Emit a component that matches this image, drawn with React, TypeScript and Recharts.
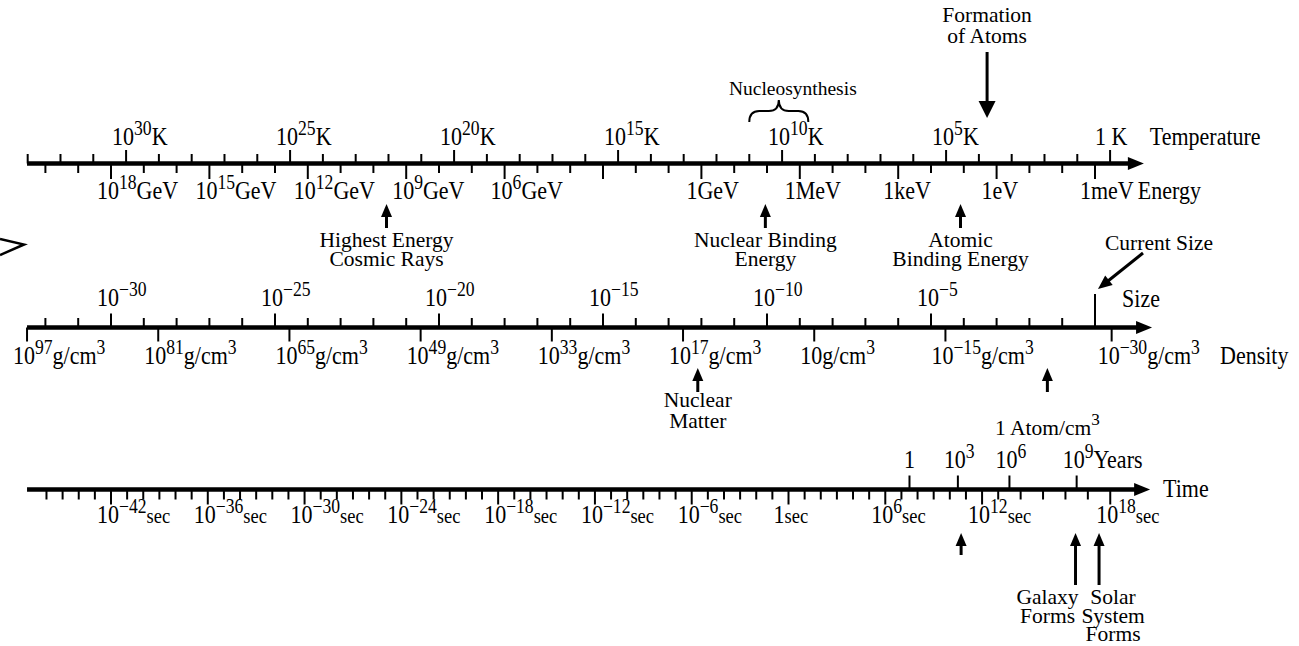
import React from 'react';
import {
  ScatterChart, Scatter, XAxis, YAxis, ReferenceLine, ReferenceArea, Customized,
} from 'recharts';

// Every mark sits on one horizontal scale: decades of the size of the universe
// (log10 a, today = 0). The other scales were read off the figure and tied to it.

const decades = (from: number, to: number) => {
  const out: number[] = [];
  const step = from < to ? 1 : -1;
  for (let v = from; v !== to + step; v += step) out.push(v);
  return out;
};

// temperature, log10 K
const tempTicks = decades(33, 0);
const tempLabels = [30, 25, 20, 15, 10, 5, 0];
// energy, log10 GeV
const energyTicks = decades(20, -12);
const energyMajor = [18, 15, 12, 9, 6, 3, 0, -3, -6, -9, -12];
const energyNames: Record<number, string> = { 0: '1GeV', [-3]: '1MeV', [-6]: '1keV', [-9]: '1eV', [-12]: '1meV' };
// size, log10
const sizeTicks = decades(-32, -1);
const sizeLabels = [-30, -25, -20, -15, -10, -5];
const currentSize = 0;
// density, log10 g/cm3
const densityLabels = [97, 81, 65, 49, 33, 17, 1, -15, -30];
// time, log10 s ; years, log10 yr
const timeTicks = decades(-46, 18);
const timeLabels = [-42, -36, -30, -24, -18, -12, -6, 0, 6, 12, 18];
const yearLabels = [0, 3, 6, 9];

// events
const nucleosynthesis = [11, 9.2]; // log10 K
const formationOfAtoms = 3.75; // log10 K
const energyEvents = [
  { at: 9.6, text: ['Highest Energy', 'Cosmic Rays'] },
  { at: -1.95, text: ['Nuclear Binding', 'Energy'] },
  { at: -7.9, text: ['Atomic', 'Binding Energy'] },
];
const densityEvents = [
  { at: 15.2, text: ['Nuclear', 'Matter'] },
  { at: -24.2, text: ['1 Atom/cm^{3}'] },
];
const timeEvents = [
  { at: 10.7, text: [] as string[] },
  { at: 16.45, text: ['Galaxy', 'Forms'] },
  { at: 17.5, text: ['Solar', 'System', 'Forms'] },
];

// how each scale lines up with log10 a
const fromTemp = (k: number) => 0.46 - k;
const fromEnergy = (e: number) => -12 - e;
const fromDensity = (d: number) => (d >= -15 ? -32.56 + (97 - d) / 4 : -4.56 + (-15 - d) / 2.96);
const fromTime = (t: number) => (t <= 13 ? -30 + (t + 42) * 0.4918 : -2.95 + (t - 13) * 0.683);
const fromYears = (y: number) => fromTime(y + 7.5);

// layout
const W = 1299;
const H = 646;
const FONT = "'Liberation Serif', 'Times New Roman', serif";
const FS = 25;
const SX = 0.88;
const NOTE = 21.5;
const RAISE = 10;
const POWER_SHIFT = 14;
const ROW_TEMP = 163.5;
const ROW_SIZE = 327.5;
const ROW_TIME = 489.5;
const AXIS_START = -32.56;

const minus = (n: number) => (n < 0 ? '\u2212' + -n : String(n));

const Rich = ({ x, y, src, anchor = 'start', size = FS, sx = SX }: any) => {
  const parts = String(src).split(/(\^\{[^}]*\}|_\{[^}]*\})/).filter(Boolean);
  let shift = 0;
  return (
    <text transform={`translate(${x},${y}) scale(${sx},1)`} textAnchor={anchor}
      fontFamily={FONT} fontSize={size} fill="#000">
      {parts.map((p, i) => {
        const sup = p.startsWith('^{');
        const sub = p.startsWith('_{');
        const txt = sup || sub ? p.slice(2, -1) : p;
        const target = sup ? -RAISE : 0;
        const dy = target - shift;
        shift = target;
        const fs = sup ? size * 0.8 : sub ? size * 0.84 : size;
        return (
          <tspan key={i} dy={dy} fontSize={fs}>{txt}</tspan>
        );
      })}
    </text>
  );
};

const Note = (props: any) => <Rich size={NOTE} sx={1} anchor="middle" {...props} />;

const Tick = (up: number, down: number) => (p: any) => (
  <line x1={p.cx} x2={p.cx} y1={p.cy - up} y2={p.cy + down} stroke="#000" strokeWidth={2} />
);

const LabelAt = (dy: number) => (p: any) => {
  const s: string = p.payload.label;
  if (!s) return <g />;
  if (s === '1') return <Rich x={p.cx} y={p.cy + dy} src={s} anchor="middle" />;
  const power = s.startsWith('10');
  return <Rich x={p.cx - (power ? POWER_SHIFT : 15)} y={p.cy + dy} src={s} />;
};

const AxisEnd = (titles: { text: string; dx: number; dy: number }[]) => (p: any) => (
  <g>
    <polygon points={`${p.cx - 16},${p.cy - 6.5} ${p.cx},${p.cy} ${p.cx - 16},${p.cy + 6.5}`} fill="#000" />
    {titles.map((t) => (
      <Rich key={t.text} x={p.cx + t.dx} y={p.cy + t.dy} src={t.text} />
    ))}
  </g>
);

const UpArrow = (len: (p: any) => number, textTop: (p: any) => number, gap: number, dx: (p: any) => number) => (p: any) => {
  const { cx, cy } = p;
  const lines: string[] = p.payload.text;
  return (
    <g>
      <polygon points={`${cx},${cy} ${cx - 5.5},${cy + 13} ${cx + 5.5},${cy + 13}`} fill="#000" />
      <line x1={cx} x2={cx} y1={cy + 10} y2={cy + len(p)} stroke="#000" strokeWidth={3} />
      {lines.map((t, i) => (
        <Note key={i} x={cx + dx(p)} y={cy + textTop(p) + i * gap} src={t} />
      ))}
    </g>
  );
};

const FormationShape = (p: any) => {
  const { cx, cy } = p;
  return (
    <g>
      <line x1={cx} x2={cx} y1={cy - 66} y2={cy - 12} stroke="#000" strokeWidth={3} />
      <polygon points={`${cx},${cy} ${cx - 8.5},${cy - 17} ${cx + 8.5},${cy - 17}`} fill="#000" />
      <Note x={cx} y={cy - 96} src="Formation" />
      <Note x={cx} y={cy - 75} src="of Atoms" />
    </g>
  );
};

const CurrentSizeShape = (p: any) => {
  const { cx, cy } = p;
  const tx = cx + 3;
  const ty = cy - 3;
  const ux = -0.781;
  const uy = 0.625;
  const bx = tx - ux * 14;
  const by = ty - uy * 14;
  return (
    <g>
      <line x1={tx + 45} y1={ty - 36} x2={bx + ux * 2} y2={by + uy * 2} stroke="#000" strokeWidth={3} />
      <polygon points={`${tx},${ty} ${bx - uy * 6},${by + ux * 6} ${bx + uy * 6},${by - ux * 6}`} fill="#000" />
      <Note x={cx + 10} y={cy - 42} src="Current Size" anchor="start" />
    </g>
  );
};

const Brace = (p: any) => {
  const { x, y, width: w, height: h } = p;
  const cx = x + w / 2;
  const ym = y + h * 0.5;
  const r = Math.min(w * 0.18, 10);
  const d = `M${x},${y + h} Q${x},${ym} ${x + r},${ym} L${cx - r},${ym} Q${cx},${ym} ${cx},${y}`
    + ` Q${cx},${ym} ${cx + r},${ym} L${x + w - r},${ym} Q${x + w},${ym} ${x + w},${y + h}`;
  return (
    <g>
      <path d={d} fill="none" stroke="#000" strokeWidth={2} />
      <Note x={cx + 14} y={y - 5} src="Nucleosynthesis" size={19.5} />
    </g>
  );
};

const at = (vals: number[], y: number, f: (v: number) => number, label?: (v: number) => string) =>
  vals.map((v) => ({ x: f(v), y, label: label ? label(v) : '' }));

const tempLabel = (k: number) => (k === 0 ? '1 K' : `10^{${k}}K`);
const energyLabel = (e: number) => (e >= 6 ? `10^{${e}}GeV` : energyNames[e] || '');
const sizeLabel = (s: number) => `10^{${minus(s)}}`;
const densityLabel = (d: number) => (d === 1 ? '10g/cm^{3}' : `10^{${minus(d)}}g/cm^{3}`);
const timeLabel = (t: number) => (t === 0 ? '1_{sec}' : `10^{${minus(t)}}_{sec}`);
const yearLabel = (y: number) => (y === 0 ? '1' : `10^{${y}}${y === 9 ? 'Years' : ''}`);

const Decoration = () => (
  <polyline points="0,239 24,244.5 0,255" fill="none" stroke="#000" strokeWidth={2.5} />
);

export default function App() {
  const S = (key: string, data: any[], shape: any) => (
    <Scatter key={key} data={data} shape={shape} isAnimationActive={false} />
  );
  return (
    <div style={{ position: 'absolute', left: 0, top: 0, width: W, height: H, background: '#fff' }}>
      <ScatterChart width={W} height={H} margin={{ top: 0, right: 7.2, bottom: 0, left: 12.6 }}>
        <XAxis type="number" dataKey="x" domain={[-33, 6]} hide />
        <YAxis type="number" dataKey="y" domain={[0, H]} reversed hide />

        <ReferenceLine segment={[{ x: AXIS_START, y: ROW_TEMP }, { x: 1.15, y: ROW_TEMP }]} stroke="#000" strokeWidth={4.5} />
        <ReferenceLine segment={[{ x: AXIS_START, y: ROW_SIZE }, { x: 1.4, y: ROW_SIZE }]} stroke="#000" strokeWidth={4.5} />
        <ReferenceLine segment={[{ x: AXIS_START, y: ROW_TIME }, { x: 1.34, y: ROW_TIME }]} stroke="#000" strokeWidth={4.5} />

        <ReferenceArea x1={fromTemp(nucleosynthesis[0])} x2={fromTemp(nucleosynthesis[1])} y1={100} y2={122}
          shape={Brace} ifOverflow="visible" />

        {S('tmin', at(tempTicks.filter((k) => !tempLabels.includes(k)), ROW_TEMP, fromTemp), Tick(9.5, 0))}
        {S('tmaj', at(tempLabels, ROW_TEMP, fromTemp), Tick(13.5, 0))}
        {S('tlab', at(tempLabels, ROW_TEMP, fromTemp, tempLabel), LabelAt(-18.5))}
        {S('emin', at(energyTicks.filter((e) => !energyMajor.includes(e)), ROW_TEMP, fromEnergy), Tick(0, 9.5))}
        {S('emaj', at(energyMajor, ROW_TEMP, fromEnergy), Tick(0, 15.5))}
        {S('elab', at(energyMajor, ROW_TEMP, fromEnergy, energyLabel), LabelAt(35.5))}
        {S('tend', [{ x: 1.49, y: ROW_TEMP }], AxisEnd([
          { text: 'Temperature', dx: 6, dy: -18.5 },
          { text: 'Energy', dx: -6, dy: 35.5 },
        ]))}

        {S('smin', at(sizeTicks.filter((s) => !sizeLabels.includes(s)), ROW_SIZE, (s) => s), Tick(9.5, 0))}
        {S('smaj', at(sizeLabels, ROW_SIZE, (s) => s), Tick(14, 0))}
        {S('snow', at([currentSize], ROW_SIZE, (s) => s), Tick(33.5, 0))}
        {S('slab', at(sizeLabels, ROW_SIZE, (s) => s, sizeLabel), LabelAt(-21.5))}
        {S('dmaj', at(densityLabels, ROW_SIZE, fromDensity), Tick(0, 14))}
        {S('dlab', at(densityLabels, ROW_SIZE, fromDensity, densityLabel), LabelAt(36.5))}
        {S('send', [{ x: 1.74, y: ROW_SIZE }], AxisEnd([
          { text: 'Size', dx: -30, dy: -20.5 },
          { text: 'Density', dx: 68, dy: 36.5 },
        ]))}

        {S('timin', at(timeTicks.filter((t) => t % 6 !== 0), ROW_TIME, fromTime), Tick(0, 10))}
        {S('timaj', at(timeTicks.filter((t) => t % 6 === 0), ROW_TIME, fromTime), Tick(0, 15))}
        {S('tilab', at(timeLabels, ROW_TIME, fromTime, timeLabel), LabelAt(33.5))}
        {S('ymaj', at(yearLabels, ROW_TIME, fromYears), Tick(14, 0))}
        {S('ylab', at(yearLabels, ROW_TIME, fromYears, yearLabel), LabelAt(-21.5))}
        {S('tiend', [{ x: 1.68, y: ROW_TIME }], AxisEnd([{ text: 'Time', dx: 13, dy: 7.5 }]))}

        {S('form', [{ x: fromTemp(formationOfAtoms), y: 118 }], FormationShape)}
        {S('eev', energyEvents.map((e) => ({ x: fromEnergy(e.at), y: 204, text: e.text })),
          UpArrow(() => 24, () => 43, 18.5, () => 0))}
        {S('now', [{ x: currentSize, y: 292 }], CurrentSizeShape)}
        {S('dev', densityEvents.map((e) => ({ x: fromDensity(e.at), y: 368, text: e.text })),
          UpArrow(() => 24, (p) => (p.payload.text.length > 1 ? 39 : 67), 21, () => 0))}
        {S('tev', timeEvents.map((e) => ({ x: fromTime(e.at), y: 533, text: e.text })),
          UpArrow((p) => (p.payload.text.length ? 52 : 22), () => 71, 18.5,
            (p) => (p.payload.text.length > 2 ? 14 : p.payload.text.length ? -28 : 0)))}

        <Customized component={Decoration} />
      </ScatterChart>
    </div>
  );
}
